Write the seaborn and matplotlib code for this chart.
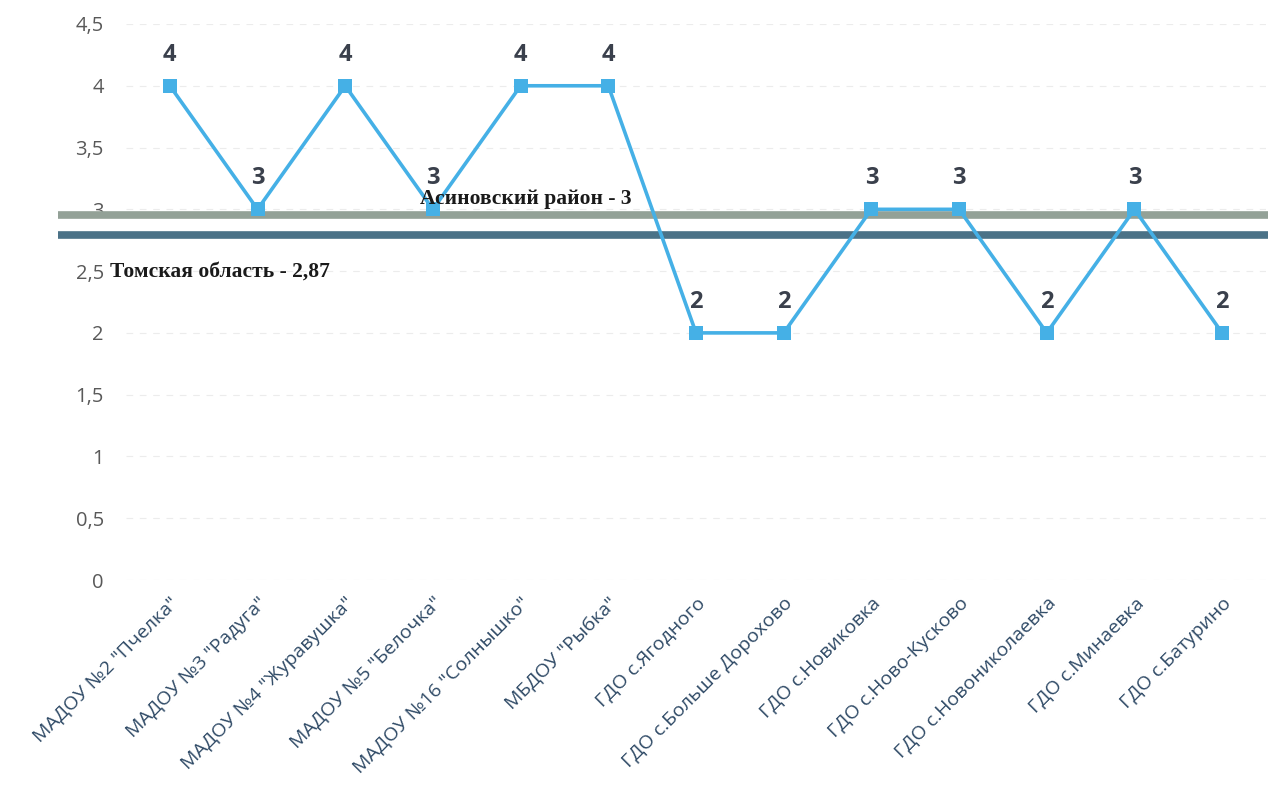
import matplotlib
matplotlib.use("Agg")
import matplotlib.pyplot as plt
import seaborn as sns
import pandas as pd

categories = ['МАДОУ №2 "Пчелка"', 'МАДОУ №3 "Радуга"', 'МАДОУ №4 "Журавушка"',
              'МАДОУ №5 "Белочка"', 'МАДОУ №16 "Солнышко"', 'МБДОУ "Рыбка"',
              'ГДО с.Ягодного', 'ГДО с.Больше Дорохово', 'ГДО с.Новиковка',
              'ГДО с.Ново-Кусково', 'ГДО с.Новониколаевка', 'ГДО с.Минаевка',
              'ГДО с.Батурино']
values = [4, 3, 4, 3, 4, 4, 2, 2, 3, 3, 2, 3, 2]
ref_labels = ['Асиновский район - 3', 'Томская область - 2,87']
ref_levels = [2.955, 2.79]
yticks = [0, 0.5, 1, 1.5, 2, 2.5, 3, 3.5, 4, 4.5]

sns.set_theme(style="white")
plt.rcParams['font.family'] = ['Open Sans', 'DejaVu Sans']

df = pd.DataFrame({"x": range(len(categories)), "y": values})

fig = plt.figure(figsize=(12.68, 7.98), dpi=100)
ax = fig.add_axes([126/1268, 1-580/798, 1140/1268, 556/798])

for yv in yticks:
    ax.axhline(yv, color="#ececec", lw=0.8, ls=(0, (6, 6)), zorder=0)

sns.lineplot(data=df, x="x", y="y", ax=ax, color="#45b0e6", lw=2.6,
             marker="s", markersize=10, markeredgewidth=0, zorder=3)

for i, v in enumerate(values):
    ax.text(i, v + 0.155, str(v), ha="center", va="bottom", fontsize=17,
            fontweight="bold", color="#3a404c", family=['Open Sans', 'DejaVu Sans'])

ax.set_xlim(-0.5, len(categories) - 0.5)
ax.set_ylim(0, 4.5)
ax.set_yticks(yticks)
ax.set_yticklabels([f"{t:g}".replace(".", ",") for t in yticks], fontsize=14.5, color="#595959")
ax.set_xticks(range(len(categories)))
ax.set_xticklabels(categories, rotation=45, ha="right", rotation_mode="anchor",
                   fontsize=14, color="#2f4a66")
ax.tick_params(axis="y", pad=16, length=0)
ax.tick_params(axis="x", pad=10, length=0)
ax.set_xlabel("")
ax.set_ylabel("")
for s in ax.spines.values():
    s.set_visible(False)

# reference lines (extend beyond the axes to the left)
line_colors = ["#93a197", "#4b7287"]
for lvl, col in zip(ref_levels, line_colors):
    ax.axhline(lvl, xmin=-0.06, xmax=1.01, color=col, lw=5.5, clip_on=False,
               zorder=2, solid_capstyle="butt")

ax.text(2.85, ref_levels[0] + 0.05, ref_labels[0], ha="left", va="bottom",
        fontsize=15.5, fontweight="bold", family="Liberation Serif", color="#1a1a1a")
ax.text(-0.68, 2.5, ref_labels[1], ha="left", va="center",
        fontsize=15.5, fontweight="bold", family="Liberation Serif", color="#1a1a1a",
        clip_on=False)

fig.savefig("out.png", dpi=100)
